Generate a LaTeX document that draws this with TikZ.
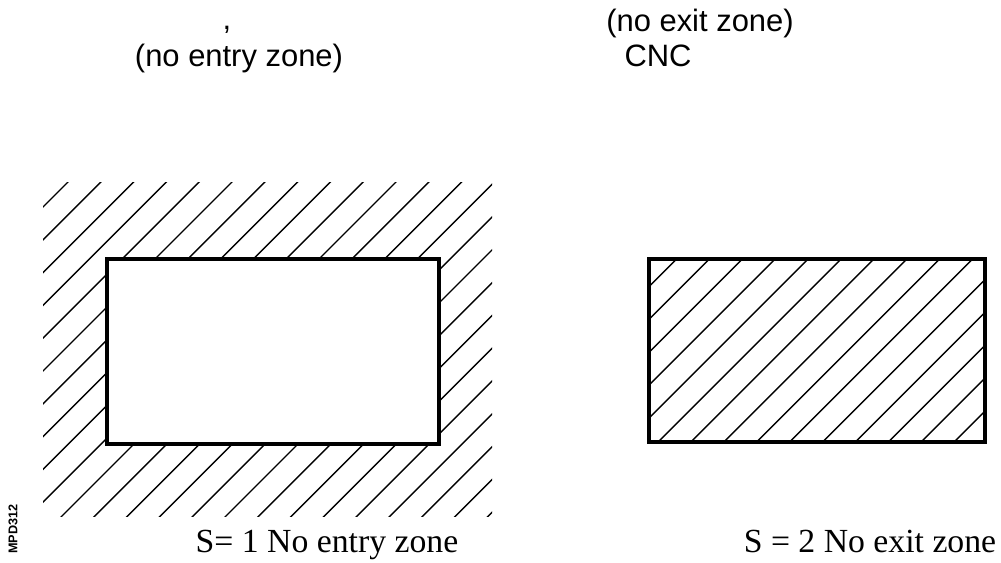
\documentclass[tikz,border=0pt]{standalone}
\usepackage{fontspec}
\setmainfont{Liberation Serif}
\setsansfont{Liberation Sans}
\usetikzlibrary{positioning}

\begin{document}
\begin{tikzpicture}[x=0.1mm, y=-0.1mm,
  every node/.style={inner sep=0pt},
  toplabel/.style={font=\sffamily\fontsize{8.8}{10}\selectfont, anchor=base},
  zonelabel/.style={font=\rmfamily\fontsize{9.6}{11}\selectfont, anchor=base},
  hatch/.style={line width=0.4pt},
  zoneframe/.style={line width=1.2pt}]
\useasboundingbox (0,0) rectangle (1001,563);

% Headings
\node[toplabel] (entrycomma) at (227,30) {,};
\node[toplabel] (entrytitle) at (239,67) {(no entry zone)};
\node[toplabel] (exittitle)  at (700,32) {(no exit zone)};
\node[toplabel] (exitcnc)    at (658,67) {CNC};

% S=1: hatched outside the frame
\begin{scope}
\clip (43,183) rectangle (492,516);
\foreach \k in {0,...,23}{
  \pgfmathsetmacro{\c}{250+32.8*\k}
  \draw[hatch] (\c-600,600) -- (\c,0);
}
\end{scope}
\fill[white] (107,259) rectangle (439,444);
\draw[zoneframe] (107,259) rectangle (439,444);

% S=2: hatched inside the frame
\begin{scope}
\clip (649,259) rectangle (985,442);
\foreach \k in {-5,...,9}{
  \pgfmathsetmacro{\c}{1100+32.9*\k}
  \draw[hatch] (\c-600,600) -- (\c,0);
}
\end{scope}
\draw[zoneframe] (649,259) rectangle (985,442);

% Captions
\node[zonelabel] (entrycap) at (327,552) {S= 1 No entry zone};
\node[zonelabel] (exitcap)  at (870,552) {S = 2 No exit zone};
\node[font=\sffamily\bfseries\fontsize{3.6}{4}\selectfont, rotate=90] (figref) at (13,529) {MPD312};

\end{tikzpicture}
\end{document}
